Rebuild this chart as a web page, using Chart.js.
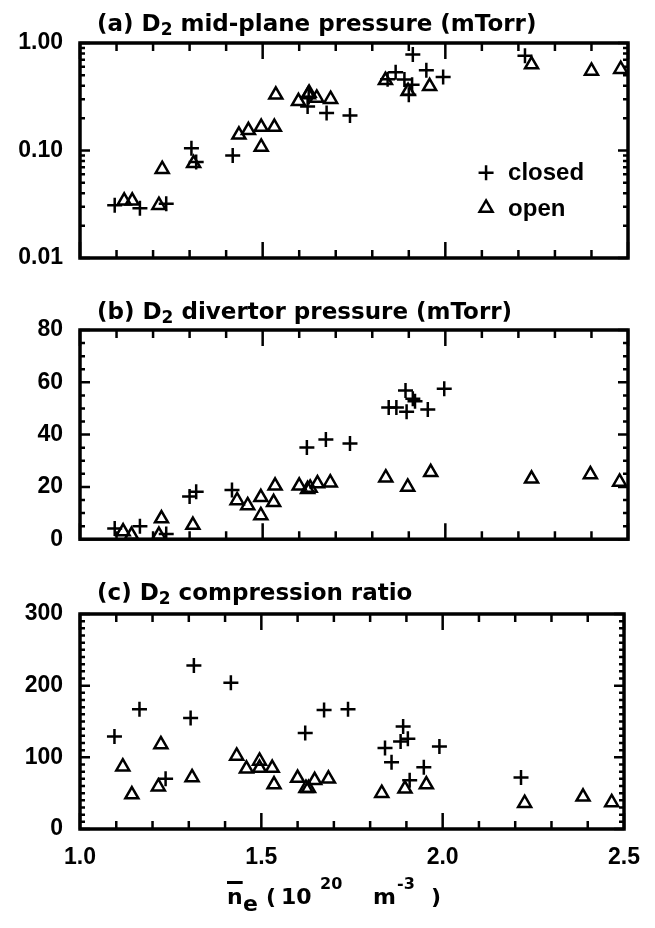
<!DOCTYPE html>
<html>
<head>
<meta charset="utf-8">
<script src="https://cdn.jsdelivr.net/npm/chart.js@4.4.0/dist/chart.umd.min.js"></script>
<style>
  html, body { margin: 0; padding: 0; background: #fff; }
  #page { position: relative; width: 655px; height: 928px; overflow: hidden; }
  canvas { position: absolute; left: 0; }
  .ttl { position: absolute; left: 97px; font: bold 23px "DejaVu Sans", sans-serif; line-height: 26px; white-space: nowrap; color: #000; }
  .ttl sub { font-size: 17px; vertical-align: -4px; line-height: 0; }
  #xt { position: absolute; left: 0; top: 0; width: 655px; height: 928px; font: bold 22px "DejaVu Sans", sans-serif; white-space: nowrap; }
  #xt span { position: absolute; line-height: 26px; }
  #xt .ob { text-decoration: overline; text-decoration-thickness: 3px; }
  #xt .sp { font-size: 16px; }
</style>
</head>
<body>
<div id="page">
  <canvas id="cA" width="655" height="290" style="top:0"></canvas>
  <canvas id="cB" width="655" height="280" style="top:290px"></canvas>
  <canvas id="cC" width="655" height="358" style="top:570px"></canvas>
  <div class="ttl" style="top:10px">(a) D<sub>2</sub> mid-plane pressure (mTorr)</div>
  <div class="ttl" style="top:298px">(b) D<sub>2</sub> divertor pressure (mTorr)</div>
  <div class="ttl" style="top:579px">(c) D<sub>2</sub> compression ratio</div>
  <div id="xt">
    <span class="ob" style="left:227px;top:884px">n</span>
    <span style="left:243px;top:891px">e</span>
    <span style="left:266px;top:884px">(</span>
    <span style="left:281px;top:884px">10</span>
    <span class="sp" style="left:320px;top:871px">20</span>
    <span style="left:373px;top:884px">m</span>
    <span class="sp" style="left:397px;top:871px">-3</span>
    <span style="left:431px;top:884px">)</span>
  </div>
</div>
<script>
// axis ticks
const xTicks = [1.0, 1.5, 2.0, 2.5];
const yTicksA = [0.01, 0.1, 1];
const yTicksB = [0, 20, 40, 60, 80];
const yTicksC = [0, 100, 200, 300];

// (a) mid-plane pressure, mTorr
const closedA_x = [1.095, 1.164, 1.236, 1.305, 1.318, 1.418, 1.623, 1.626, 1.675, 1.739, 1.842, 1.864, 1.888, 1.900, 1.909, 1.911, 1.948, 1.994, 2.218];
const closedA_y = [0.031, 0.029, 0.032, 0.105, 0.078, 0.090, 0.257, 0.315, 0.223, 0.212, 0.46, 0.534, 0.457, 0.33, 0.41, 0.78, 0.558, 0.484, 0.76];
const openA_x = [1.121, 1.143, 1.216, 1.225, 1.311, 1.435, 1.461, 1.496, 1.496, 1.532, 1.536, 1.598, 1.625, 1.627, 1.648, 1.686, 1.836, 1.898, 1.957, 2.236, 2.400, 2.480];
const openA_y = [0.034, 0.034, 0.031, 0.067, 0.076, 0.140, 0.154, 0.165, 0.108, 0.165, 0.33, 0.287, 0.331, 0.343, 0.308, 0.300, 0.45, 0.355, 0.395, 0.63, 0.55, 0.57];

// (b) divertor pressure, mTorr
const closedB_x = [1.095, 1.164, 1.236, 1.300, 1.318, 1.416, 1.621, 1.673, 1.739, 1.845, 1.866, 1.891, 1.894, 1.911, 1.917, 1.952, 1.997];
const closedB_y = [4.1, 5.0, 2.0, 16.3, 18.1, 18.8, 35.1, 38.1, 36.6, 50.4, 50.4, 56.9, 48.75, 53.75, 52.75, 49.6, 57.5];
const openB_x = [1.118, 1.141, 1.216, 1.223, 1.309, 1.430, 1.459, 1.495, 1.495, 1.530, 1.534, 1.600, 1.623, 1.630, 1.650, 1.685, 1.837, 1.897, 1.960, 2.236, 2.397, 2.477];
const openB_y = [2.9, 1.6, 1.6, 7.9, 5.4, 14.8, 12.9, 16.0, 9.1, 14.1, 20.4, 20.4, 19.1, 19.6, 21.3, 21.6, 23.5, 20.0, 25.6, 23.1, 24.75, 21.9];

// (c) compression ratio
const closedC_x = [1.095, 1.164, 1.236, 1.305, 1.314, 1.416, 1.621, 1.673, 1.739, 1.841, 1.859, 1.884, 1.891, 1.904, 1.909, 1.948, 1.991, 2.216];
const closedC_y = [129, 167, 70, 155, 228, 204, 134, 166, 167, 113, 93, 122, 143, 126, 68, 86, 115, 72];
const openC_x = [1.118, 1.143, 1.216, 1.223, 1.309, 1.432, 1.459, 1.495, 1.495, 1.530, 1.535, 1.600, 1.623, 1.630, 1.647, 1.685, 1.832, 1.896, 1.955, 2.226, 2.387, 2.466];
const openC_y = [87, 48, 59, 118, 72, 102, 84, 95, 85, 85, 62, 71, 57, 57, 68, 70, 50, 56, 62, 36, 45, 37];

const tickFont = { family: '"Liberation Sans", Arial, sans-serif', weight: 'bold', size: 23 };

const pts = (xs, ys) => xs.map((x, i) => ({ x: x, y: ys[i] }));

function datasets(cx, cy, ox, oy) {
  return [
    { label: 'closed', data: pts(cx, cy), pointStyle: 'cross', pointRadius: 7.5, borderWidth: 2.5, borderColor: '#000', backgroundColor: '#000' },
    { label: 'open', data: pts(ox, oy), pointStyle: 'triangle', pointRadius: 7.5, borderWidth: 2.5, borderColor: '#000', backgroundColor: 'rgba(0,0,0,0)' }
  ];
}

function logMinors(min, max) {
  const out = [];
  for (let d = min; d < max * 0.999; d *= 10) {
    for (let k = 2; k <= 9; k++) out.push(k * d);
  }
  return out;
}
function stepVals(min, max, step) {
  const out = [];
  const n = Math.round((max - min) / step);
  for (let i = 0; i <= n; i++) out.push(min + i * step);
  return out;
}

// box frame with inward ticks on all four sides
const frameTicks = {
  id: 'frameTicks',
  afterDatasetsDraw(chart, args, opts) {
    const { ctx, chartArea: a } = chart;
    const x = chart.scales.x, y = chart.scales.y;
    ctx.save();
    ctx.strokeStyle = '#000';
    ctx.lineWidth = 2.5;
    ctx.beginPath();
    const xt = (vals, len) => vals.forEach(v => {
      const p = x.getPixelForValue(v);
      ctx.moveTo(p, a.bottom); ctx.lineTo(p, a.bottom - len);
      ctx.moveTo(p, a.top); ctx.lineTo(p, a.top + len);
    });
    const yt = (vals, len) => vals.forEach(v => {
      const p = y.getPixelForValue(v);
      ctx.moveTo(a.left, p); ctx.lineTo(a.left + len, p);
      ctx.moveTo(a.right, p); ctx.lineTo(a.right - len, p);
    });
    xt(opts.xMinor, 8);
    xt(opts.xMajor, 16);
    yt(opts.yMinor, 5);
    yt(opts.yMajor, 10);
    ctx.stroke();
    ctx.lineWidth = 3.5;
    ctx.strokeRect(a.left, a.top, a.right - a.left, a.bottom - a.top);
    ctx.restore();
  }
};

// legend drawn inside the plot area, markers from the dataset styles
const innerLegend = {
  id: 'innerLegend',
  afterDraw(chart, args, opts) {
    if (!opts.show) return;
    const { ctx, chartArea: a } = chart;
    ctx.save();
    chart.data.datasets.forEach((ds, i) => {
      const mx = a.left + opts.fx * (a.right - a.left);
      const my = a.top + (opts.fy + i * opts.dy) * (a.bottom - a.top);
      ctx.strokeStyle = ds.borderColor;
      ctx.fillStyle = ds.backgroundColor;
      ctx.lineWidth = ds.borderWidth;
      Chart.helpers.drawPoint(ctx, { pointStyle: ds.pointStyle, radius: ds.pointRadius, borderWidth: ds.borderWidth, rotation: 0 }, mx, my);
      ctx.fillStyle = '#000';
      ctx.font = 'bold 24px "Liberation Sans", Arial, sans-serif';
      ctx.textBaseline = 'middle';
      ctx.fillText(ds.label, mx + opts.gap, my + 1);
    });
    ctx.restore();
  }
};

function yAxis(type, min, max, ticksArr, fmt) {
  return {
    type: type, min: min, max: max,
    grid: { display: false, drawTicks: false },
    border: { display: false },
    afterBuildTicks: s => { s.ticks = ticksArr.map(v => ({ value: v })); },
    afterFit: s => { s.width = 80; },
    ticks: { font: tickFont, color: '#000', padding: 17, autoSkip: false, callback: v => fmt(v) }
  };
}

function xAxis(showLabels) {
  return {
    type: 'linear', min: 1.0, max: 2.5,
    display: showLabels,
    grid: { display: false, drawTicks: false },
    border: { display: false },
    afterBuildTicks: s => { s.ticks = xTicks.map(v => ({ value: v })); },
    afterFit: s => { s.height = showLabels ? 60 : 0; },
    ticks: { font: tickFont, color: '#000', padding: 15, autoSkip: false, maxRotation: 0, callback: v => v.toFixed(1) }
  };
}

function makeChart(id, ds, yOpts, yMajor, yMinor, padding, showX, legend) {
  return new Chart(document.getElementById(id), {
    type: 'scatter',
    data: { datasets: ds },
    options: {
      responsive: false,
      animation: false,
      devicePixelRatio: 1,
      layout: { padding: padding },
      scales: { x: xAxis(showX), y: yOpts },
      plugins: {
        legend: { display: false },
        tooltip: { enabled: false },
        frameTicks: { xMinor: stepVals(1.0, 2.5, 0.1), xMajor: xTicks, yMinor: yMinor, yMajor: yMajor },
        innerLegend: legend
      }
    },
    plugins: [frameTicks, innerLegend]
  });
}

makeChart('cA', datasets(closedA_x, closedA_y, openA_x, openA_y),
  yAxis('logarithmic', 0.01, 1, yTicksA, v => v.toFixed(2)), yTicksA, logMinors(0.01, 1),
  { top: 43, bottom: 32, left: 0, right: 27 }, false,
  { show: true, fx: 0.741, fy: 0.604, dy: 0.163, gap: 22 });
makeChart('cB', datasets(closedB_x, closedB_y, openB_x, openB_y),
  yAxis('linear', 0, 80, yTicksB, v => String(v)), yTicksB, stepVals(0, 80, 5),
  { top: 40, bottom: 27, left: 0, right: 27 }, false, { show: false });
makeChart('cC', datasets(closedC_x, closedC_y, openC_x, openC_y),
  yAxis('linear', 0, 300, yTicksC, v => String(v)), yTicksC, stepVals(0, 300, 10),
  { top: 44, bottom: 39, left: 0, right: 27 }, true, { show: false });
</script>
</body>
</html>
